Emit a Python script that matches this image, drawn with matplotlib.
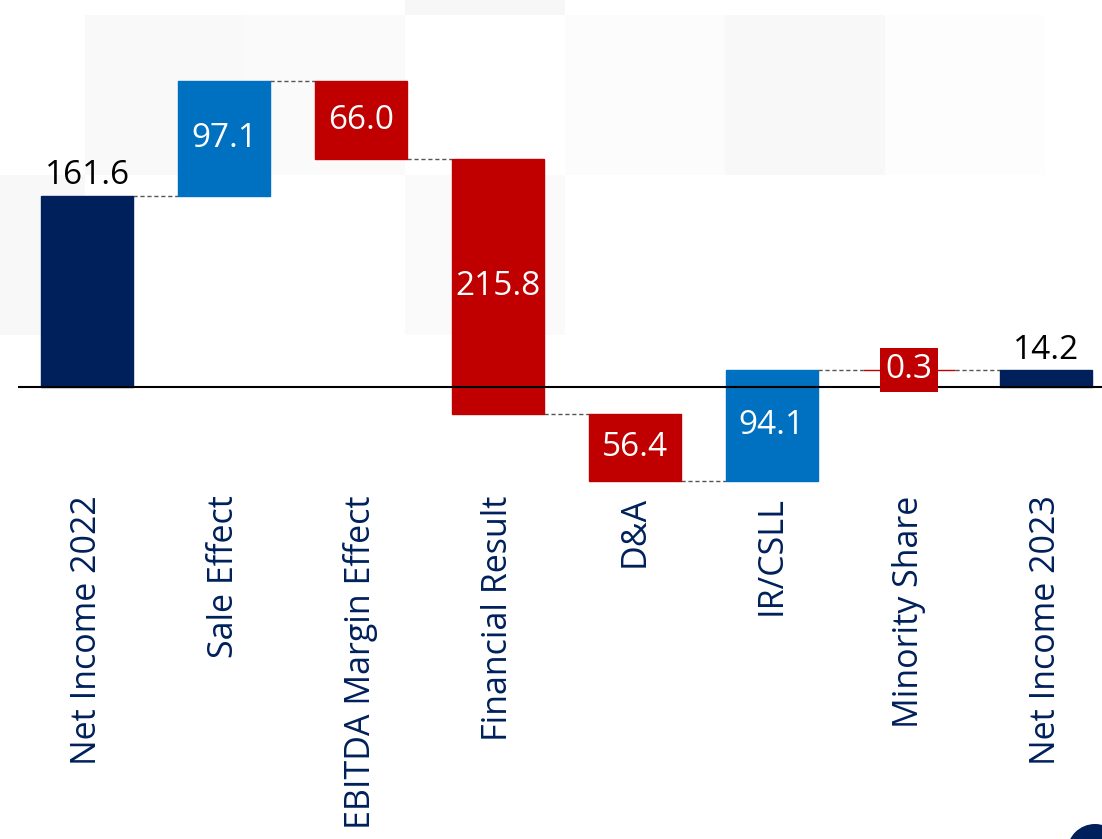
import matplotlib
matplotlib.use("Agg")
import matplotlib.pyplot as plt
from matplotlib.patches import Rectangle, Circle

categories = ["Net Income 2022", "Sale Effect", "EBITDA Margin Effect", "Financial Result",
              "D&A", "IR/CSLL", "Minority Share", "Net Income 2023"]
values = [161.6, 97.1, -66.0, -215.8, -56.4, 94.1, -0.3, 14.2]
kinds = ["total", "delta", "delta", "delta", "delta", "delta", "delta", "total"]
labels = ["161.6", "97.1", "66.0", "215.8", "56.4", "94.1", "0.3", "14.2"]

NAVY = "#00205B"
BLUE = "#0070C0"
RED = "#C00000"
FONT = ["Open Sans", "DejaVu Sans"]

W, H = 1102, 839
fig = plt.figure(figsize=(W / 100, H / 100), dpi=100)
fig.patch.set_facecolor("white")

# faint decorative background
bg = fig.add_axes([0, 0, 1, 1], zorder=-5)
bg.set_xlim(0, W)
bg.set_ylim(H, 0)
bg.axis("off")
for (x0, y0, w, h, c) in [(85, 15, 160, 160, "#f9f9f9"), (245, 15, 160, 160, "#fafafa"),
                          (405, 0, 160, 15, "#f7f7f7"), (725, 15, 160, 160, "#f8f8f8"),
                          (0, 175, 85, 160, "#f8f8f8"), (565, 15, 160, 160, "#fcfcfc"),
                          (405, 175, 160, 160, "#fafafa"), (885, 15, 160, 160, "#fdfdfd")]:
    bg.add_patch(Rectangle((x0, y0), w, h, facecolor=c, edgecolor="none"))
bg.add_patch(Circle((1095, 852), 28, facecolor=NAVY, edgecolor="none"))

ax = fig.add_axes([18 / W, 1 - 490 / H, 1 - 18 / W, 490 / H], zorder=1)
ax.patch.set_alpha(0)
ax.set_xlim(-0.504, 7.41)
ax.set_ylim(-87.1, 327.4)
for s in ax.spines.values():
    s.set_visible(False)
ax.set_yticks([])

bw = 0.67
running = 0.0
bottoms, tops, levels = [], [], []
for i, (v, k) in enumerate(zip(values, kinds)):
    if k == "total":
        b, t = 0.0, v
        running = v
        color = NAVY
    else:
        start = running
        running = running + v
        b, t = min(start, running), max(start, running)
        color = BLUE if v > 0 else RED
    bottoms.append(b)
    tops.append(t)
    levels.append(running)
    ax.bar(i, t - b, bottom=b, width=bw, color=color, edgecolor=color, linewidth=1, zorder=3)

# connectors
for i in range(len(values) - 1):
    y = levels[i]
    ax.plot([i + bw / 2, i + 1 - bw / 2], [y, y], color="#555555", lw=1,
            linestyle=(0, (3, 2)), zorder=2)

ax.axhline(0, color="black", lw=1.5, zorder=4)

for i, (lab, k) in enumerate(zip(labels, kinds)):
    if k == "total":
        ax.text(i, tops[i] + 3, lab, ha="center", va="bottom", fontsize=24,
                color="black", family=FONT, zorder=5)
    elif categories[i] == "Minority Share":
        ax.text(i, (tops[i] + bottoms[i]) / 2, lab, ha="center", va="center", fontsize=24,
                color="white", family=FONT, zorder=5,
                bbox=dict(boxstyle="square,pad=0.16", facecolor=RED, edgecolor="none"))
    else:
        ax.text(i, (tops[i] + bottoms[i]) / 2, lab, ha="center", va="center", fontsize=24,
                color="white", family=FONT, zorder=5)

ax.set_xticks(range(len(categories)))
ax.set_xticklabels(categories, rotation=90, fontsize=24.5, color=NAVY, family=FONT)
ax.tick_params(axis="x", length=0, pad=4)

fig.savefig("out.png", dpi=100, facecolor="white")
